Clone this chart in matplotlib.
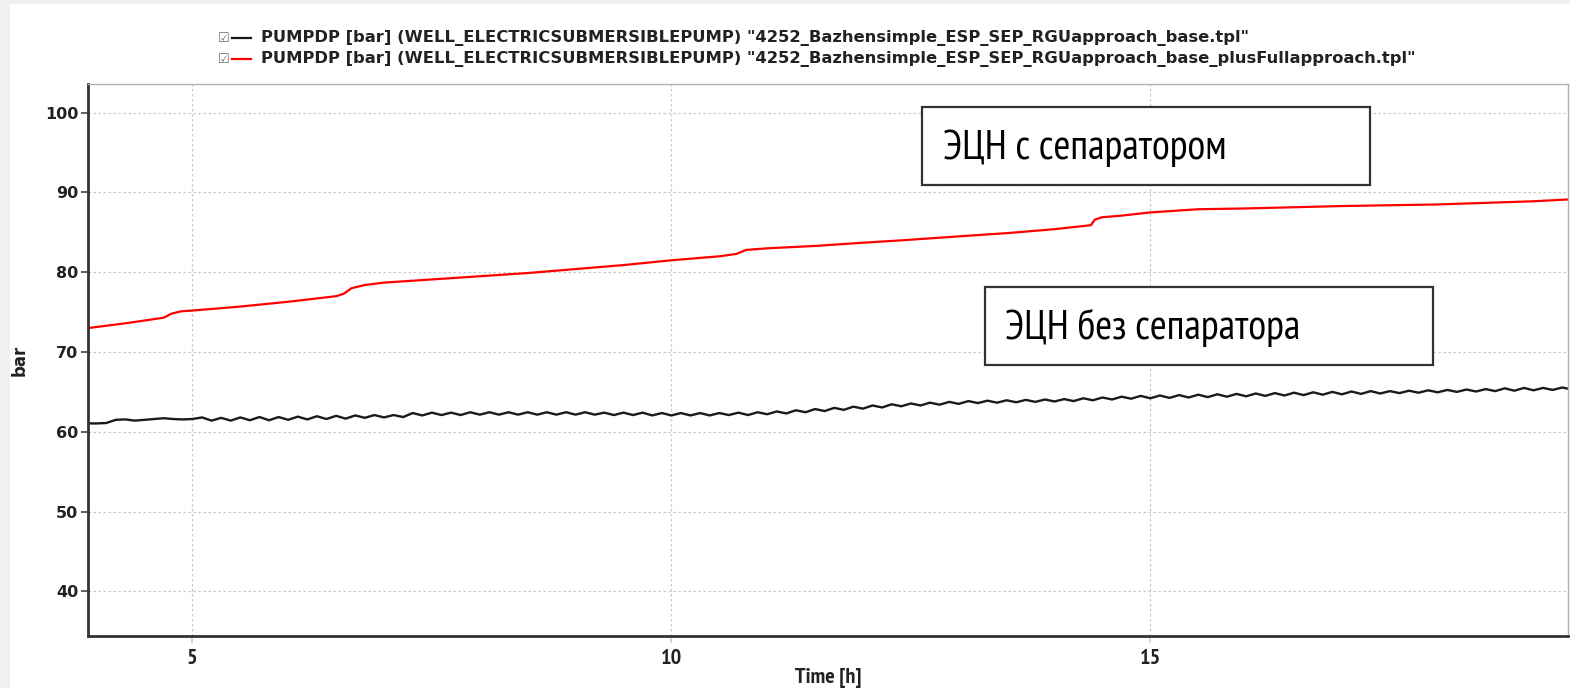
import matplotlib
matplotlib.use("Agg")
import matplotlib.pyplot as plt
import matplotlib.font_manager as fm
from matplotlib.ft2font import FT2Font
import numpy as np
from matplotlib.patches import Rectangle
from matplotlib.lines import Line2D

# ESP discharge pressure, bar, vs simulation time, h
# black: ESP without separator, sampled every 0.1 h from 3.9 to 19.4
black_t = np.round(np.arange(3.9, 19.45, 0.1), 2)
black_p = np.array([
    61.05,
    61.05, 61.1, 61.5, 61.55, 61.4, 61.5, 61.6, 61.7, 61.6, 61.55,
    61.6, 61.8, 61.4, 61.75, 61.4, 61.8, 61.45, 61.85, 61.45, 61.85,
    61.5, 61.9, 61.55, 61.95, 61.6, 62.0, 61.65, 62.05, 61.75, 62.1,
    61.8, 62.1, 61.85, 62.35, 62.05, 62.4, 62.1, 62.4, 62.1, 62.45,
    62.15, 62.45, 62.15, 62.45, 62.15, 62.45, 62.15, 62.45, 62.15, 62.45,
    62.15, 62.45, 62.15, 62.4, 62.1, 62.4, 62.1, 62.4, 62.05, 62.35,
    62.05, 62.35, 62.05, 62.35, 62.05, 62.35, 62.1, 62.4, 62.1, 62.45,
    62.2, 62.55, 62.3, 62.7, 62.45, 62.85, 62.6, 63.0, 62.75, 63.15,
    62.9, 63.3, 63.05, 63.45, 63.2, 63.55, 63.3, 63.65, 63.4, 63.75,
    63.5, 63.85, 63.6, 63.9, 63.65, 63.95, 63.7, 64.0, 63.75, 64.05,
    63.8, 64.1, 63.85, 64.2, 63.95, 64.3, 64.05, 64.4, 64.15, 64.5,
    64.2, 64.55, 64.25, 64.6, 64.3, 64.65, 64.35, 64.7, 64.4, 64.75,
    64.45, 64.8, 64.5, 64.85, 64.55, 64.9, 64.6, 64.95, 64.65, 65.0,
    64.7, 65.05, 64.75, 65.1, 64.8, 65.1, 64.85, 65.15, 64.9, 65.2,
    64.95, 65.25, 65.0, 65.3, 65.05, 65.35, 65.1, 65.45, 65.15, 65.5,
    65.2, 65.5, 65.25, 65.55, 65.3,
])

# red: ESP with separator
red_t = [3.91, 4.3, 4.7, 4.78, 4.88, 5.0, 5.5, 6.0, 6.5, 6.58, 6.66, 6.8,
         7.0, 7.5, 8.0, 8.5, 9.0, 9.5, 10.0, 10.5, 10.68, 10.78, 11.0, 11.5,
         12.0, 12.4, 13.0, 13.5, 14.0, 14.38, 14.42, 14.5, 14.7, 15.0, 15.5,
         16.0, 16.5, 17.0, 17.5, 18.0, 18.5, 19.0, 19.4]
red_p = [73.0, 73.6, 74.3, 74.8, 75.1, 75.2, 75.7, 76.3, 77.0, 77.3, 78.0, 78.4,
         78.7, 79.1, 79.5, 79.9, 80.4, 80.9, 81.5, 82.0, 82.3, 82.8, 83.0, 83.3,
         83.7, 84.0, 84.5, 84.9, 85.4, 85.9, 86.6, 86.9, 87.1, 87.5, 87.9,
         88.0, 88.15, 88.3, 88.4, 88.5, 88.7, 88.9, 89.15]

series_labels = [
    'PUMPDP [bar] (WELL_ELECTRICSUBMERSIBLEPUMP) "4252_Bazhensimple_ESP_SEP_RGUapproach_base.tpl"',
    'PUMPDP [bar] (WELL_ELECTRICSUBMERSIBLEPUMP) "4252_Bazhensimple_ESP_SEP_RGUapproach_base_plusFullapproach.tpl"',
]
series_colors = ['#1a1a1a', '#ff0000']
box_texts = ['ЭЦН с сепаратором', 'ЭЦН без сепаратора']

y_ticks = [40, 50, 60, 70, 80, 90, 100]
x_ticks = [5, 10, 15]


def has_chars(fname, chars):
    try:
        cmap = FT2Font(fname).get_charmap()
    except Exception:
        return False
    return all(ord(c) in cmap for c in chars)


def narrow_font(bold, size, chars='0123456789'):
    # look for a condensed face that covers the text, else fall back to Roboto
    def wt(f):
        w = f.weight
        if isinstance(w, str):
            w = 700 if 'bold' in w.lower() else 400
        return w
    cands = [f for f in fm.fontManager.ttflist
             if ('Narrow' in f.name or 'Condensed' in f.name
                 or f.stretch in ('condensed', 'semi-condensed'))
             and f.style == 'normal' and (wt(f) >= 600) == bold]
    cands.sort(key=lambda f: ('Narrow' not in f.name, f.name))
    for f in cands:
        if has_chars(f.fname, chars):
            return fm.FontProperties(fname=f.fname, size=size), True
    return fm.FontProperties(family=['Roboto', 'DejaVu Sans'], size=size * 0.8,
                             weight='bold' if bold else 'normal'), False


W, H = 1570, 688
fig = plt.figure(figsize=(W / 100, H / 100), dpi=100)
fig.patch.set_facecolor('#f0f0f0')
fig.add_artist(Rectangle((10 / W, 0), 1 - 10 / W, 1 - 4 / H,
                         transform=fig.transFigure, facecolor='white',
                         edgecolor='none', zorder=-10))

ax = fig.add_axes([88 / W, 52 / H, 1480 / W, 552 / H])
ax.plot(black_t, black_p, color=series_colors[0], lw=1.7)
ax.plot(red_t, red_p, color=series_colors[1], lw=1.6)

ax.set_xlim(3.91, 19.36)
ax.set_ylim(34.4, 103.6)
ax.set_xticks(x_ticks)
ax.set_yticks(y_ticks)
ax.grid(True, color='#c8c8c8', linestyle=(0, (2, 2)), linewidth=0.9)

for side in ['left', 'bottom']:
    ax.spines[side].set_color('#333333')
    ax.spines[side].set_linewidth(2)
for side in ['top', 'right']:
    ax.spines[side].set_color('#b0b0b0')
    ax.spines[side].set_linewidth(1)

ax.tick_params(axis='y', length=5, width=1.2, color='#444444', pad=2,
               labelsize=11.5, labelcolor='#222222')
ax.tick_params(axis='x', length=5, width=1.2, color='#cccccc', pad=4,
               labelcolor='#222222')
for lbl in ax.get_yticklabels():
    lbl.set_fontweight('bold')

tick_fp, _ = narrow_font(True, 16, '0123456789Time[h]')
for lbl in ax.get_xticklabels():
    lbl.set_fontproperties(tick_fp)
label_fp = tick_fp.copy()
label_fp.set_size(tick_fp.get_size())
ax.set_xlabel('Time [h]', fontproperties=label_fp, color='#222222', labelpad=0)
ax.set_ylabel('bar', fontweight='bold', fontsize=12, color='#222222', labelpad=12)

# annotation boxes
box_fp, _ = narrow_font(False, 29.5, ''.join(box_texts).replace(' ', ''))
boxes = [(0.5635, 0.8170, 0.3027, 0.1413, 0.5777, 0.884),
         (0.6061, 0.4909, 0.3027, 0.1413, 0.6196, 0.558)]
for txt, (bx, by, bw, bh, tx, ty) in zip(box_texts, boxes):
    ax.add_patch(Rectangle((bx, by), bw, bh, transform=ax.transAxes,
                           facecolor='white', edgecolor='#333333', lw=1.6,
                           zorder=5))
    ax.text(tx, ty, txt, transform=ax.transAxes, fontproperties=box_fp,
            va='center', ha='left', color='black', zorder=6)

# legend with checkboxes above the plot
for i, (lab, col) in enumerate(zip(series_labels, series_colors)):
    yy = 1 - (38 + 21 * i) / H
    fig.text(218 / W, yy, '☑', fontsize=9.5, color='#707070', va='center')
    fig.add_artist(Line2D([232 / W, 251 / W], [yy, yy], color=col, lw=1.6,
                          transform=fig.transFigure))
    fig.text(261 / W, yy, lab, fontsize=11.8, fontweight='bold',
             color='#222222', va='center')

fig.savefig('out.png', dpi=100, facecolor=fig.get_facecolor())
